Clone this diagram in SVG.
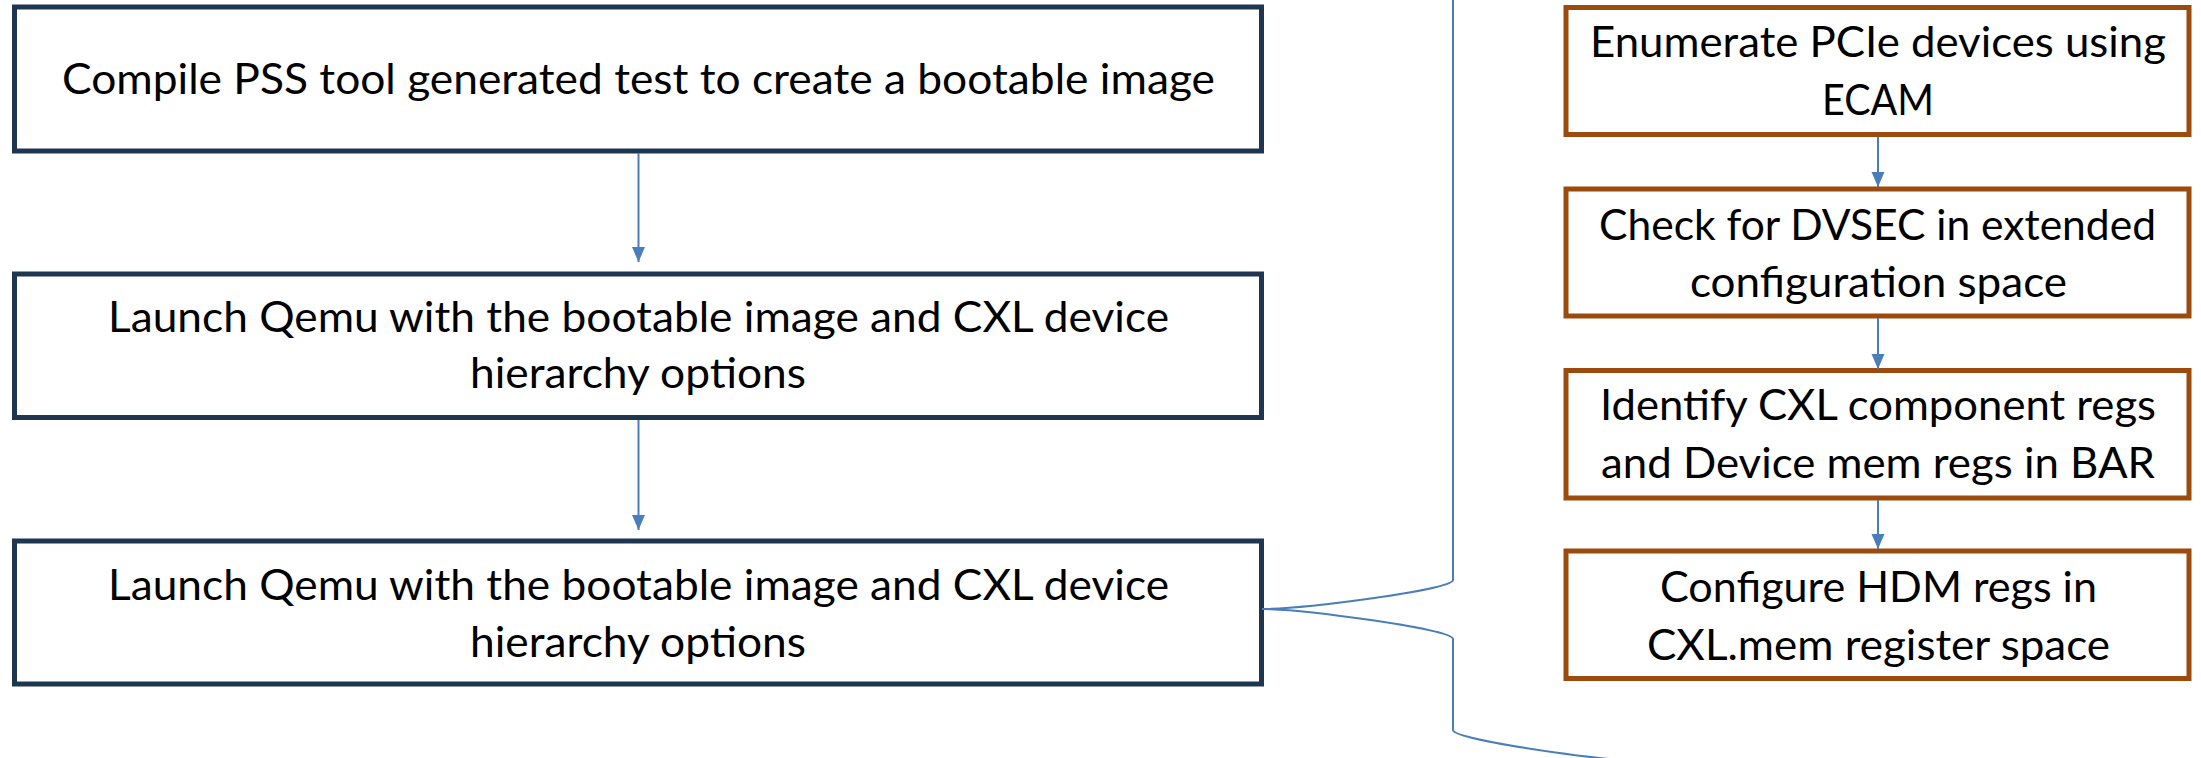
<svg xmlns="http://www.w3.org/2000/svg" width="2201" height="758" viewBox="0 0 2201 758">
  <style>
    .step { fill: #ffffff; stroke: #1f3650; stroke-width: 5; }
    .sub { fill: #ffffff; stroke: #9c4b0d; stroke-width: 5; }
    .label { font-family: Lato, "Open Sans", "Liberation Sans", sans-serif; font-size: 42px; fill: #000000; text-anchor: middle; }
    .link { fill: none; stroke: #4a7ebb; stroke-width: 2; }
  </style>
  <defs>
    <marker id="arrow" markerUnits="userSpaceOnUse" markerWidth="15" markerHeight="14" refX="15" refY="6.5" orient="auto">
      <path d="M0,0 L15,6.5 L0,13 Z" fill="#4a7ebb"/>
    </marker>
  </defs>
  <rect width="2201" height="758" fill="#ffffff"/>

  <!-- main flow (left column) -->
  <g id="compile">
    <rect class="step" x="14.5" y="7" width="1247" height="144"/>
    <text class="label" x="638.5" y="94" textLength="1153" lengthAdjust="spacingAndGlyphs">Compile PSS tool generated test to create a bootable image</text>
  </g>
  <g id="launch-1">
    <rect class="step" x="14.5" y="274" width="1247" height="143.5"/>
    <text class="label" x="638.5" y="332" textLength="1061" lengthAdjust="spacingAndGlyphs">Launch Qemu with the bootable image and CXL device</text>
    <text class="label" x="638" y="388" textLength="336" lengthAdjust="spacingAndGlyphs">hierarchy options</text>
  </g>
  <g id="launch-2">
    <rect class="step" x="14.5" y="541" width="1247" height="143"/>
    <text class="label" x="638.5" y="600" textLength="1061" lengthAdjust="spacingAndGlyphs">Launch Qemu with the bootable image and CXL device</text>
    <text class="label" x="638" y="657" textLength="336" lengthAdjust="spacingAndGlyphs">hierarchy options</text>
  </g>

  <!-- detail steps (right column) -->
  <g id="enumerate">
    <rect class="sub" x="1566" y="7.5" width="623" height="127"/>
    <text class="label" x="1878" y="57" textLength="576" lengthAdjust="spacingAndGlyphs">Enumerate PCIe devices using</text>
    <text class="label" x="1878" y="115" textLength="112" lengthAdjust="spacingAndGlyphs">ECAM</text>
  </g>
  <g id="dvsec">
    <rect class="sub" x="1566" y="189" width="623" height="127"/>
    <text class="label" x="1877.5" y="240" textLength="557" lengthAdjust="spacingAndGlyphs">Check for DVSEC in extended</text>
    <text class="label" x="1878.5" y="297" textLength="377" lengthAdjust="spacingAndGlyphs">configuration space</text>
  </g>
  <g id="identify">
    <rect class="sub" x="1566" y="370.5" width="623" height="127.5"/>
    <text class="label" x="1878" y="420" textLength="556" lengthAdjust="spacingAndGlyphs">Identify CXL component regs</text>
    <text class="label" x="1878" y="478" textLength="554" lengthAdjust="spacingAndGlyphs">and Device mem regs in BAR</text>
  </g>
  <g id="configure">
    <rect class="sub" x="1566" y="551" width="623" height="127.5"/>
    <text class="label" x="1878.5" y="602" textLength="437" lengthAdjust="spacingAndGlyphs">Configure HDM regs in</text>
    <text class="label" x="1878.5" y="660" textLength="463" lengthAdjust="spacingAndGlyphs">CXL.mem register space</text>
  </g>

  <!-- connectors -->
  <g id="connectors">
    <line class="link" x1="638.5" y1="153" x2="638.5" y2="262" marker-end="url(#arrow)"/>
    <line class="link" x1="638.5" y1="420" x2="638.5" y2="530" marker-end="url(#arrow)"/>
    <line class="link" x1="1878" y1="137" x2="1878" y2="187" marker-end="url(#arrow)"/>
    <line class="link" x1="1878" y1="318" x2="1878" y2="369" marker-end="url(#arrow)"/>
    <line class="link" x1="1878" y1="500" x2="1878" y2="549" marker-end="url(#arrow)"/>
    <!-- bracket from the second launch step -->
    <path class="link" d="M1262,609 C1302,609 1453,590 1453,580 V-5"/>
    <path class="link" d="M1262,609 C1302,609 1453,629 1453,639 V730 C1453,740 1604,761 1644,761"/>
  </g>
</svg>
